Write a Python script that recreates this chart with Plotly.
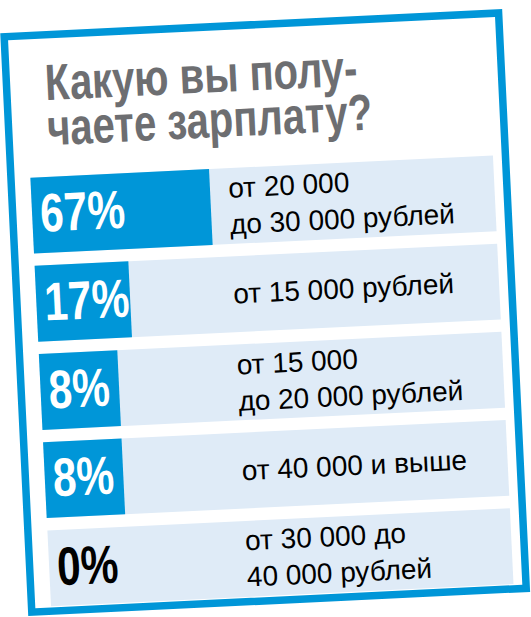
import plotly.graph_objects as go

# answers, top to bottom as printed on the card
categories = [
    "от 20 000<br>до 30 000 рублей",
    "от 15 000 рублей",
    "от 15 000<br>до 20 000 рублей",
    "от 40 000 и выше",
    "от 30 000 до<br>40 000 рублей",
]
shares = [67, 17, 8, 8, 0]
share_labels = ["67%", "17%", "8%", "8%", "0%"]
title_lines = ["Какую вы полу-", "чаете зарплату?"]

BLUE = "#0096d8"
PALE = "#dfebf7"
GREY = "#6d6e71"
W, H = 531, 617
# no narrow face installed: Arial Narrow is requested and squeezed from Liberation Sans below
NARROW = "Arial Narrow, Liberation Sans, sans-serif"
SQUEEZE = 0.785

# the blue box always has room for the figure, so it starts LABEL_PAD left of zero
LABEL_PAD = -38.2
rows = list(range(len(shares)))
bases = [LABEL_PAD if v > 0 else 0 for v in shares]

fig = go.Figure(go.Bar(
    x=[v - b for v, b in zip(shares, bases)],
    y=rows,
    base=bases,
    orientation="h",
    width=0.86,
    marker=dict(color=BLUE, line=dict(width=0)),
    hoverinfo="skip",
))

shapes = []
for i in rows:
    shapes.append(dict(type="rect", layer="below", xref="paper", yref="y",
                       x0=37 / W, x1=500 / W, y0=i - 0.43, y1=i + 0.43,
                       fillcolor=PALE, line=dict(width=0)))
# card frame
shapes.append(dict(type="rect", xref="paper", yref="paper",
                   x0=17.5 / W, x1=512.5 / W, y0=1 - 600.5 / H, y1=1 - 24.5 / H,
                   line=dict(color=BLUE, width=7.5)))

annotations = []
for i, (lab, v) in enumerate(zip(share_labels, shares)):
    annotations.append(dict(x=LABEL_PAD, y=i, xref="x", yref="y", text=lab,
                            showarrow=False, xanchor="left", yanchor="middle", align="left",
                            xshift=6, yshift=2,
                            font=dict(family=NARROW, size=54, weight="bold",
                                      color="white" if v > 0 else "black")))
for i, cat in enumerate(categories):
    annotations.append(dict(x=232 / W, y=i, xref="paper", yref="y", text=cat,
                            showarrow=False, xanchor="left", yanchor="middle", align="left",
                            font=dict(family="Liberation Sans, Arial, sans-serif", size=28,
                                      color="black")))
for k, line in enumerate(title_lines):
    annotations.append(dict(x=54 / W, y=1 - (72 + 45 * k) / H, xref="paper", yref="paper",
                            text=line, showarrow=False, xanchor="left", yanchor="middle",
                            align="left",
                            font=dict(family=NARROW, size=51, weight="bold", color=GREY)))

fig.update_layout(
    width=W, height=H,
    margin=dict(l=0, r=0, t=0, b=0),
    paper_bgcolor="white", plot_bgcolor="white",
    showlegend=False,
    shapes=shapes,
    annotations=annotations,
    xaxis=dict(range=[-59.9, 252.4], visible=False, fixedrange=True),
    yaxis=dict(range=[4.672, -2.316], visible=False, fixedrange=True),
)

# squeeze the narrow texts, and tilt the card slightly as it sits on the page
post = ("document.documentElement.style.overflow='hidden';"
        "document.body.style.overflow='hidden';"
        "document.body.style.margin='0';"
        "var gd=document.getElementById('{plot_id}');"
        "gd.querySelectorAll('text.annotation-text').forEach(function(t){"
        "  if ((t.style.fontFamily || '').indexOf('Narrow') < 0) return;"
        "  t.style.transformBox='fill-box';"
        "  t.style.transformOrigin='0% 50%';"
        "  t.style.transform='scaleX(" + str(SQUEEZE) + ")';"
        "});"
        "gd.style.transformOrigin='50% 50%';"
        "gd.style.transform='rotate(-2.75deg)';")

fig.write_html("out.html", post_script=post, config={"displayModeBar": False})
